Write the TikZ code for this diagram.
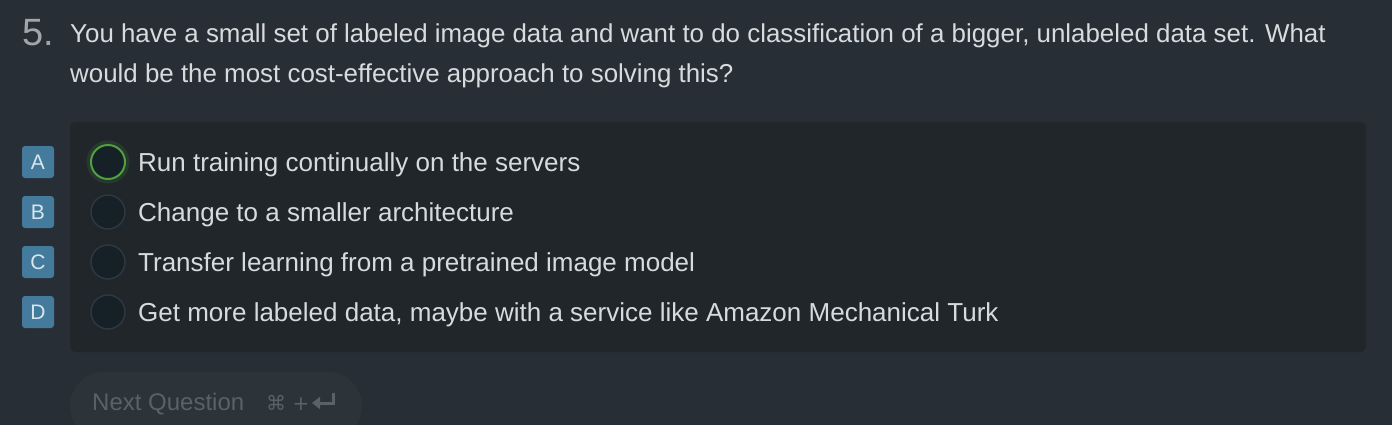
\documentclass[tikz,border=0pt]{standalone}
\usepackage{fontspec}
\setmainfont{Liberation Sans}
\newfontfamily\symfont{DejaVu Sans}
\usepackage{xcolor}
\usetikzlibrary{arrows.meta}
\definecolor{PageBg}{HTML}{282E36}
\definecolor{PanelBg}{HTML}{202629}
\definecolor{BadgeBlue}{HTML}{447B9D}
\definecolor{BadgeText}{HTML}{D8E6EE}
\definecolor{RadioFill}{HTML}{162027}
\definecolor{RadioRim}{HTML}{2F3840}
\definecolor{RadioGreen}{HTML}{50A040}
\definecolor{QuestionText}{HTML}{D8DBDE}
\definecolor{NumberGray}{HTML}{A2A6AA}
\definecolor{ButtonBg}{HTML}{2C343A}
\definecolor{ButtonText}{HTML}{5A6269}

\tikzset{
  badge/.style={fill=BadgeBlue,text=BadgeText,rounded corners=3pt,minimum size=32pt,inner sep=0pt,font=\fontsize{21}{21}\selectfont},
  radio/.style={circle,fill=RadioFill,draw=RadioRim,line width=1.5pt,minimum size=34pt,inner sep=0pt},
  answer/.style={anchor=base west,text=QuestionText,inner sep=0pt,font=\fontsize{26}{30}\selectfont},
}

\begin{document}
\begin{tikzpicture}[x=1pt,y=-1pt]
    \useasboundingbox (0,0) rectangle (1392,424);
    \fill[PageBg] (-4,-4) rectangle (1396,428);

    % question
    \node[anchor=base west,inner sep=0pt,text=NumberGray,font=\fontsize{38}{40}\selectfont] (num) at (22,45) {5.};
    \node[answer,font=\fontsize{25.9}{30}\selectfont] (q1) at (70,42) {You have a small set of labeled image data and want to do classification of a bigger, unlabeled data set. What};
    \node[answer,font=\fontsize{25.9}{30}\selectfont] (q2) at (70,82) {would be the most cost-effective approach to solving this?};

    % answers
    \fill[PanelBg,rounded corners=6pt] (70,122) rectangle (1366,352);

    \node[badge] (ba) at (38,162) {A};
    \node[badge] (bb) at (38,212) {B};
    \node[badge] (bc) at (38,262) {C};
    \node[badge] (bd) at (38,312) {D};

    \draw[RadioGreen,opacity=0.15,line width=4pt] (108,162) circle (19.5pt);
    \node[radio,draw=RadioGreen,line width=2pt] (ra) at (108,162) {};
    \node[radio] (rb) at (108,212) {};
    \node[radio] (rc) at (108,262) {};
    \node[radio] (rd) at (108,312) {};

    \node[answer] (ta) at (138,171) {Run training continually on the servers};
    \node[answer] (tb) at (138,221) {Change to a smaller architecture};
    \node[answer] (tc) at (138,271) {Transfer learning from a pretrained image model};
    \node[answer] (td) at (138,321) {Get more labeled data, maybe with a service like Amazon Mechanical Turk};

    % next button
    \fill[ButtonBg,rounded corners=34pt] (70,372) rectangle (362,440);
    \node[anchor=base west,inner sep=0pt,text=ButtonText,font=\fontsize{24}{24}\selectfont] (next) at (92,410) {Next Question};
    \node[anchor=base west,inner sep=0pt,text=ButtonText,font=\symfont\fontsize{20}{20}\selectfont] (keys) at (266,410) {⌘ +};
    \coordinate (ret) at (333,393);
    \draw[ButtonText,line width=3pt,-{Triangle[width=12pt,length=8pt]}] (ret) |- ++(-21,10);
\end{tikzpicture}
\end{document}
